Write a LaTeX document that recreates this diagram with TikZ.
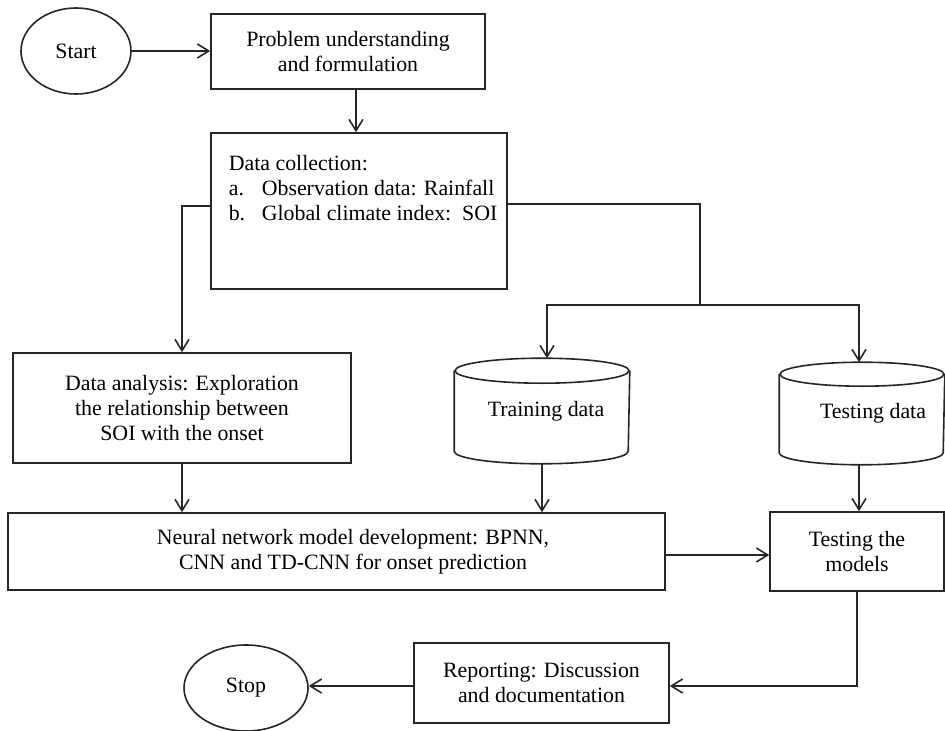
\documentclass[tikz,border=0pt]{standalone}
\usepackage{fontspec}
\setmainfont{Liberation Serif}
\usetikzlibrary{arrows.meta,shapes.geometric}
\begin{document}
\begin{tikzpicture}[x=0.75pt,y=-0.75pt,
  color=black!85, line width=1.2pt,
  every node/.style={font=\fontsize{16.4}{18.4}\selectfont, text=black},
  box/.style={draw, rectangle, inner sep=0pt, align=center},
  oval/.style={draw, ellipse, inner sep=0pt},
  plain/.style={draw=none, inner sep=0pt, align=center},
  arr/.style={-{Straight Barb[length=8.5pt,width=10.5pt,line width=1.2pt]}}
]
\useasboundingbox (0,0) rectangle (945,731);

% nodes
\node[oval, minimum width=82.5pt, minimum height=64.5pt] (start) at (76,51) {Start};
\node[box, minimum width=205.5pt, minimum height=56.25pt] (prob) at (348,51.5) {Problem understanding\\and formulation};
\node[box, minimum width=222pt, minimum height=117pt] (dc) at (359,211) {};
\node[plain, anchor=north west, align=left] (dctext) at (228,155)
  {Data collection:\\\makebox[24.75pt][l]{a.}Observation data: Rainfall\\\makebox[24.75pt][l]{b.}Global climate index:\ \ SOI};
\node[box, minimum width=253.5pt, minimum height=82.5pt] (da) at (182,408) {Data analysis: Exploration\\the relationship between\\SOI with the onset};
\node[plain, minimum width=130.5pt, minimum height=78pt] (train) at (542,411) {\hspace*{6pt}Training data};
\node[plain, minimum width=123pt, minimum height=75.75pt] (test) at (862,413.5) {\hspace*{16.5pt}Testing data};
\node[box, minimum width=492.75pt, minimum height=57.75pt] (nn) at (336.5,551.5)
  {\hspace*{24.75pt}Neural network model development: BPNN,\\\hspace*{24.75pt}CNN and TD-CNN for onset prediction};
\node[box, minimum width=130.5pt, minimum height=59.25pt] (tm) at (857,551.5) {Testing the\\models};
\node[box, minimum width=191.25pt, minimum height=60pt] (rep) at (541.5,683) {Reporting: Discussion\\and documentation};
\node[oval, minimum width=93pt, minimum height=64.5pt] (stop) at (246,688) {Stop};

% cylinders
\draw ([yshift=-9.375pt]train.north) ellipse [x radius=65.25pt, y radius=9.375pt];
\draw ([yshift=-9.375pt]train.north west) -- ([yshift=9.375pt]train.south west)
  arc[start angle=180, end angle=360, x radius=65.25pt, y radius=9.375pt]
  -- ([yshift=-9.375pt]train.north east);
\draw ([yshift=-9pt]test.north) ellipse [x radius=61.5pt, y radius=9pt];
\draw ([yshift=-9pt]test.north west) -- ([yshift=9pt]test.south west)
  arc[start angle=180, end angle=360, x radius=61.5pt, y radius=9pt]
  -- ([yshift=-9pt]test.north east);

% connectors
\draw[arr] (start.east) -- (prob.west |- start.east);
\draw[arr] (prob.south -| 356,0) -- (dc.north -| 356,0);
\draw[arr] (dc.west |- 0,206) -| (da.north);
\coordinate (split) at (700,305);
\draw (dc.east |- 0,204) -| (split);
\draw[arr] (split) -| (train.north -| 547,0);
\draw[arr] (split) -| (test.north -| 859,0);
\draw[arr] (da.south) -- (nn.north -| da.south);
\draw[arr] (train.south -| 542,0) -- (nn.north -| 542,0);
\draw[arr] (test.south -| 859,0) -- (tm.north -| 859,0);
\draw[arr] (nn.east |- 0,555) -- (tm.west |- 0,555);
\draw[arr] (tm.south) |- (rep.east |- 0,686);
\draw[arr] (rep.west |- 0,686) -- (stop.east |- 0,686);
\end{tikzpicture}
\end{document}
